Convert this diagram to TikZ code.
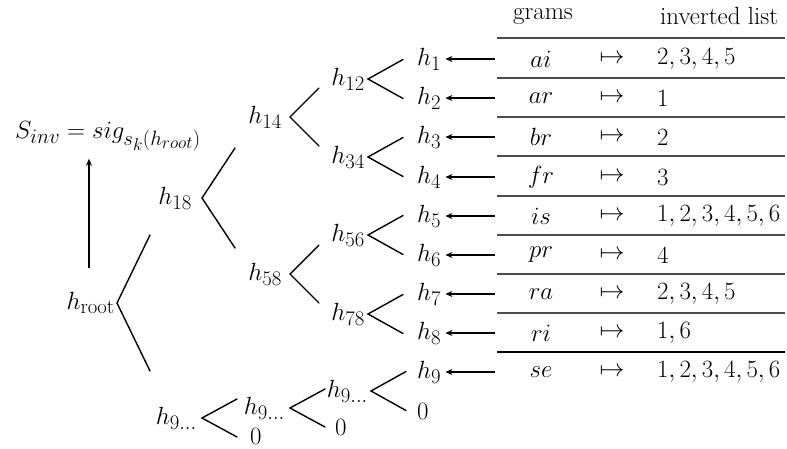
\documentclass[tikz,border=0pt]{standalone}
\usepackage{fontspec}
\usetikzlibrary{arrows.meta}
\newcommand\myfork[4]{\draw[forkline] ([shift={(#2+#3,-#4)}]#1.east) -- ([xshift=#2]#1.east) -- ++(#3,#4);}
\tikzset{
  lbl/.style={inner sep=0pt, font=\fontsize{24.88}{28}\selectfont},
  leaf/.style={lbl, anchor=west},
  par/.style={lbl, anchor=east},
  forkline/.style={line width=1.4pt, line cap=round},
  arr/.style={line width=1.4pt, -{Stealth[length=7pt,width=6pt]}},
  rule/.style={line width=1.3pt, black!70},
  cell/.style={lbl}
}
\begin{document}
\begin{tikzpicture}[x=1pt,y=-1pt]
\useasboundingbox (0,0) rectangle (787,448);
% table header
\node[cell] (hg) at (543,16) {grams};
\node[cell, anchor=west] (hl) at (660,16) {inverted list};
% table rules
\foreach \yy in {38,78,117,156,196,235,274,313}
  \draw[rule] (497,\yy) -- (785,\yy);
\draw[line width=1.3pt] (497,352) -- (785,352);
% rows
\foreach \i/\yy/\g/\l in {1/59/ai/{2,3,4,5},2/98/ar/1,3/137/br/2,4/177/fr/3,5/216/is/{1,2,3,4,5,6},6/255/pr/4,7/294/ra/{2,3,4,5},8/333/ri/{1,6},9/372/se/{1,2,3,4,5,6}}{
  \node[cell] (g\i) at (541,\yy) {$\g$};
  \node[cell] (m\i) at (612,\yy) {$\mapsto$};
  \node[cell, anchor=west] (l\i) at (657,\yy) {$\l$};
  \coordinate (r\i) at (495,\yy);
}
% leaves
\foreach \i/\yy in {1/59,2/98,3/137,4/177,5/216,6/255,7/294,8/333,9/372}{
  \node[leaf] (h\i) at (417,\yy) {$h_{\i}$};
  \draw[arr, shorten >=4pt] (r\i) -- (h\i.east);
}
\node[leaf] (z9) at (417,411) {$0$};
% level 1
\node[par] (h12) at (365,79) {$h_{12}$};
\node[par] (h34) at (365,157) {$h_{34}$};
\node[par] (h56) at (365,235) {$h_{56}$};
\node[par] (h78) at (365,314) {$h_{78}$};
\node[par] (h9c) at (368,391) {$h_{9\ldots}$};
\myfork{h12}{3}{35}{19.5}
\myfork{h34}{3}{35}{19.5}
\myfork{h56}{3}{35}{19.5}
\myfork{h78}{3}{35}{19.5}
\myfork{h9c}{3}{35}{19.5}
% level 2
\node[par] (h14) at (282,117) {$h_{14}$};
\node[par] (h58) at (282,274) {$h_{58}$};
\node[par] (h9b) at (285,408) {$h_{9\ldots}$};
\node[leaf] (z9b) at (335,427) {$0$};
\myfork{h14}{8}{29}{29}
\myfork{h58}{8}{29}{29}
\myfork{h9b}{5}{35}{19}
% level 3
\node[par] (h18) at (192,198) {$h_{18}$};
\node[par] (h9a) at (197,418) {$h_{9\ldots}$};
\node[leaf] (z9a) at (250,436) {$0$};
\myfork{h18}{10}{33}{50}
\myfork{h9a}{5}{35}{19}
% root
\node[par] (hroot) at (115,303) {$h_{\mathrm{root}}$};
\myfork{hroot}{2}{33}{68}
\node[lbl] (sinv) at (108,136) {$S_{inv} = sig_{s_k(h_{root})}$};
\coordinate (ra) at (89,268);
\draw[arr] (ra) -- ([yshift=-8pt]sinv.south -| ra);
\end{tikzpicture}
\end{document}
